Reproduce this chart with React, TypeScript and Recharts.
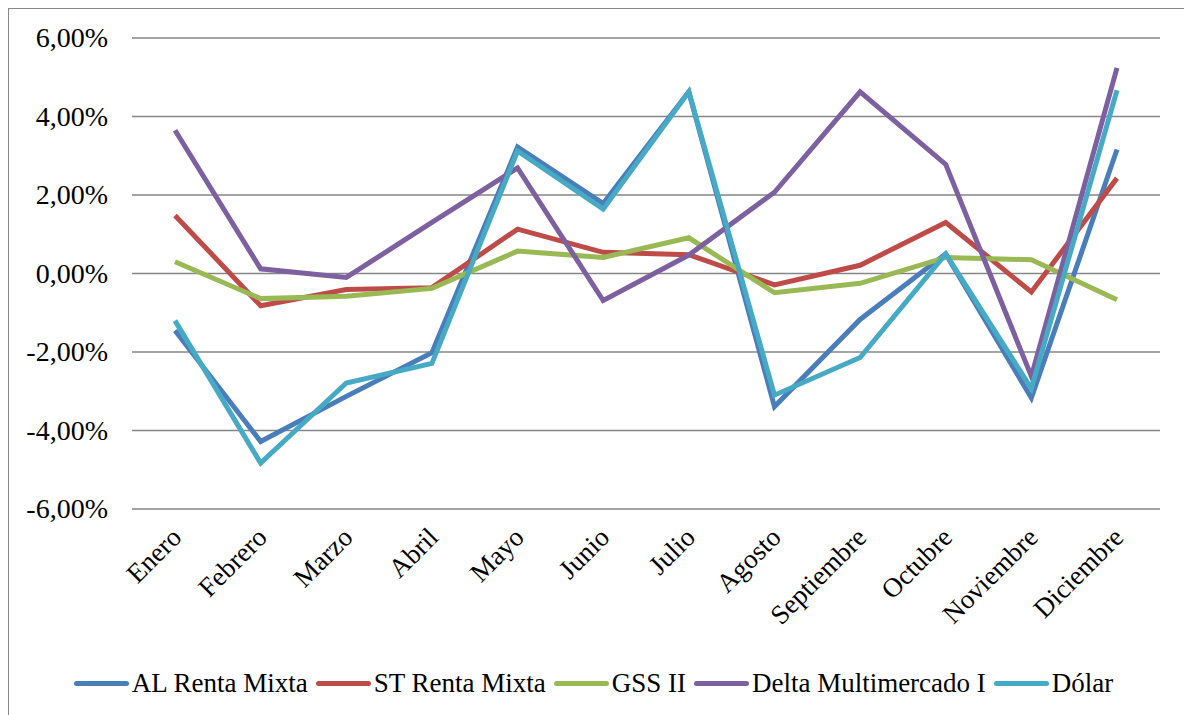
import { LineChart, Line, XAxis, YAxis, CartesianGrid, Legend } from "recharts"

const months = [
  "Enero", "Febrero", "Marzo", "Abril", "Mayo", "Junio",
  "Julio", "Agosto", "Septiembre", "Octubre", "Noviembre", "Diciembre",
]

// monthly returns, in %
const alRentaMixta = [-1.45, -4.28, -3.13, -2.02, 3.22, 1.78, 4.63, -3.39, -1.17, 0.5, -3.17, 3.16]
const stRentaMixta = [1.48, -0.82, -0.41, -0.36, 1.13, 0.54, 0.48, -0.29, 0.21, 1.3, -0.47, 2.43]
const gssII = [0.3, -0.64, -0.58, -0.38, 0.57, 0.41, 0.91, -0.49, -0.25, 0.41, 0.35, -0.67]
const deltaMulti = [3.65, 0.12, -0.1, 1.3, 2.69, -0.69, 0.47, 2.07, 4.63, 2.78, -2.62, 5.24]
const dolar = [-1.2, -4.83, -2.79, -2.29, 3.12, 1.64, 4.63, -3.1, -2.14, 0.5, -2.93, 4.67]

const yTicks = [-6, -4, -2, 0, 2, 4, 6]

const series = [
  { key: "al", name: "AL Renta Mixta", color: "#4a7ebb", values: alRentaMixta },
  { key: "st", name: "ST Renta Mixta", color: "#be4b48", values: stRentaMixta },
  { key: "gss", name: "GSS II", color: "#98b954", values: gssII },
  { key: "delta", name: "Delta Multimercado I", color: "#7d60a0", values: deltaMulti },
  { key: "dolar", name: "Dólar", color: "#46aac5", values: dolar },
]

const data = months.map((m, i) => {
  const row: any = { month: m }
  series.forEach((s) => (row[s.key] = s.values[i]))
  return row
})

const FONT = "'Liberation Serif', 'Times New Roman', serif"

const fmtPct = (v: number) => `${v.toFixed(2).replace(".", ",")}%`

const MonthTick = ({ x, y, payload }: any) => (
  <text
    x={x + 8}
    y={y + 22}
    transform={`rotate(-45 ${x + 8} ${y + 22})`}
    textAnchor="end"
    fontFamily={FONT}
    fontSize={27}
    fill="#000"
  >
    {payload.value}
  </text>
)

const PctTick = ({ x, y, payload }: any) => (
  <text
    x={x}
    y={y}
    dy={9}
    textAnchor="end"
    fontFamily={FONT}
    fontSize={28}
    fill="#000"
  >
    {fmtPct(payload.value)}
  </text>
)

const renderLegend = () => (
  <div
    style={{
      display: "flex",
      justifyContent: "center",
      alignItems: "center",
      fontFamily: FONT,
      fontSize: 27,
      color: "#000",
      gap: 8,
      paddingLeft: 18,
    }}
  >
    {series.map((s) => (
      <div key={s.key} style={{ display: "flex", alignItems: "center", gap: 3 }}>
        <span
          style={{
            display: "inline-block",
            width: 55,
            height: 5,
            borderRadius: 3,
            background: s.color,
          }}
        />
        <span>{s.name}</span>
      </div>
    ))}
  </div>
)

export default function App() {
  return (
    <>
      <style>{`body{margin:0;overflow:hidden}`}</style>
      <div
        style={{
          position: "absolute",
          left: 8,
          top: 8,
          width: 1180,
          height: 712,
          border: "1px solid #888",
          background: "#fff",
        }}
      >
        <LineChart
          width={1178}
          height={704}
          data={data}
          margin={{ top: 29, right: 27, bottom: 15, left: 0 }}
        >
          <CartesianGrid vertical={false} stroke="#868686" strokeWidth={1.5} />
          <XAxis
            dataKey="month"
            axisLine={false}
            tickLine={false}
            interval={0}
            padding={{ left: 43, right: 43 }}
            height={159}
            tick={<MonthTick />}
          />
          <YAxis
            domain={[-6, 6]}
            ticks={yTicks}
            width={123}
            axisLine={false}
            tickLine={false}
            tickSize={0}
            tickMargin={24}
            tick={<PctTick />}
          />
          <Legend verticalAlign="bottom" height={30} content={renderLegend} />
          {series.map((s) => (
            <Line
              key={s.key}
              type="linear"
              dataKey={s.key}
              name={s.name}
              stroke={s.color}
              strokeWidth={5}
              dot={false}
              activeDot={false}
              isAnimationActive={false}
            />
          ))}
        </LineChart>
      </div>
    </>
  )
}
